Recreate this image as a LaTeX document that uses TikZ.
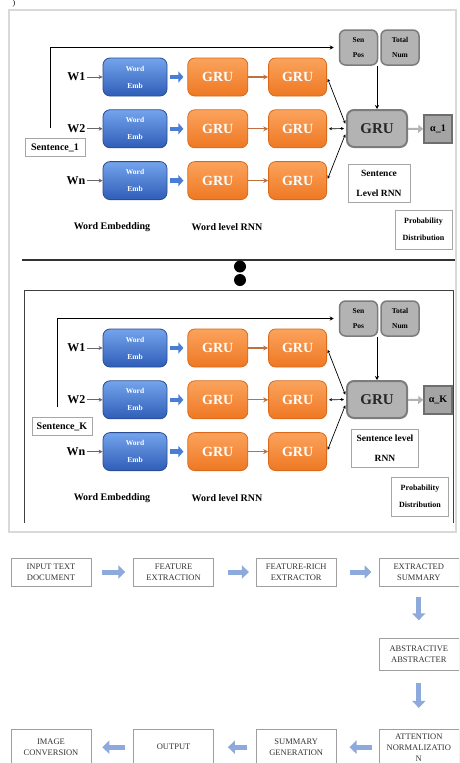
\documentclass[tikz,border=0pt]{standalone}
\usepackage{fontspec}
\setmainfont{Liberation Serif}
\usetikzlibrary{positioning,arrows.meta}

\definecolor{embtop}{HTML}{74A4EC}
\definecolor{embbot}{HTML}{2F5DB8}
\definecolor{embline}{HTML}{2A4C92}
\definecolor{embarrc}{HTML}{4A7ED6}
\definecolor{grutop}{HTML}{FBA35C}
\definecolor{grubot}{HTML}{EE7823}
\definecolor{gruline}{HTML}{D9691B}
\definecolor{gruarrc}{HTML}{C0703F}
\definecolor{sfill}{HTML}{B3B3B3}
\definecolor{sline}{HTML}{7C7C7C}
\definecolor{afill}{HTML}{A4A4A4}
\definecolor{aline}{HTML}{6E6E6E}
\definecolor{flowc}{HTML}{8EAADC}

\begin{document}
\begin{tikzpicture}[x=1pt, y=-1pt, node distance=13pt and 20pt,
  emb/.style={rectangle, rounded corners=7pt, draw=embline, line width=0.8pt, top color=embtop, bottom color=embbot,
    text=white, align=center, font=\bfseries\fontsize{7.5}{17}\selectfont, minimum width=64pt, minimum height=38pt, inner sep=0pt},
  gru/.style={rectangle, rounded corners=7pt, draw=gruline, line width=0.8pt, top color=grutop, bottom color=grubot,
    text=white, font=\bfseries\fontsize{14}{16}\selectfont, minimum width=60pt, minimum height=38pt, inner sep=0pt},
  sgru/.style={rectangle, rounded corners=7pt, draw=sline, line width=2pt, fill=sfill, text=black!85,
    font=\bfseries\fontsize{15}{17}\selectfont, minimum width=60pt, minimum height=37pt},
  posbox/.style={rectangle, rounded corners=6pt, draw=sline, line width=1.5pt, fill=sfill, align=center,
    font=\bfseries\fontsize{7.5}{15}\selectfont, minimum width=38pt, minimum height=35pt, inner sep=0pt},
  abox/.style={rectangle, draw=aline, line width=1.5pt, fill=afill, font=\bfseries\fontsize{10}{12}\selectfont,
    minimum size=28pt, inner sep=0pt},
  lbox/.style={rectangle, draw=gray!70, line width=0.6pt, fill=white, align=center, inner sep=5pt},
  wlab/.style={font=\bfseries\fontsize{12}{14}\selectfont, inner sep=1pt},
  plab/.style={font=\bfseries\fontsize{10}{12}\selectfont},
  warr/.style={-{Stealth[length=4pt,width=4pt]}, draw=gray!80!black, line width=0.8pt},
  embarr/.style={-{Triangle[length=5pt,width=11pt]}, draw=embarrc, line width=4.5pt, shorten <=3pt, shorten >=4pt},
  gruarr/.style={-{Stealth[length=5pt,width=5pt]}, draw=gruarrc, line width=1.2pt},
  duo/.style={{Stealth[length=3pt,width=3pt]}-{Stealth[length=3pt,width=3pt]}, line width=0.7pt, shorten <=2pt, shorten >=2pt},
  sarr/.style={-{Triangle[length=5pt,width=8pt]}, draw=gray!60, line width=2pt},
  flowbox/.style={rectangle, draw=gray!75, line width=0.6pt, align=center, text=black!80,
    font=\fontsize{8.5}{11}\selectfont, minimum width=80pt, minimum height=28pt, inner sep=2pt},
  flowarr/.style={-{Triangle[length=7pt,width=13pt]}, draw=flowc, line width=5pt}]

\useasboundingbox (0,0) rectangle (459,763);
\clip (0,0) rectangle (459,763);
\fill[white] (0,0) rectangle (459,763);
\node[font=\fontsize{8}{10}\selectfont, inner sep=0pt] (paren) at (14,4) {)};
\draw[gray!30, line width=1.2pt] (9,10) rectangle (456,532);

% the two sentence panels
\foreach \p/\dy/\sx/\sy/\rnn/\rx/\ry/\px/\py in {%
  1/0/55/147.5/{Sentence\\Level RNN}/379/183/423.5/229.5,%
  K/271/62/155.5/{Sentence level\\RNN}/385/177.5/420/225.5}{
\begin{scope}[shift={(0,\dy)}]
  \node[emb] (emb1\p) at (135,77) {Word\\Emb};
  \node[emb] (emb2\p) [below=of emb1\p] {Word\\Emb};
  \node[emb] (emb3\p) [below=of emb2\p] {Word\\Emb};

  \node[gru] (gra1\p) [right=of emb1\p] {GRU};
  \node[gru] (gra2\p) [right=of emb2\p] {GRU};
  \node[gru] (gra3\p) [right=of emb3\p] {GRU};
  \node[gru, minimum width=58pt] (grb1\p) [right=of gra1\p] {GRU};
  \node[gru, minimum width=58pt] (grb2\p) [right=of gra2\p] {GRU};
  \node[gru, minimum width=58pt] (grb3\p) [right=of gra3\p] {GRU};

  \node[wlab] (w1\p) [left=16pt of emb1\p] {W1};
  \node[wlab] (w2\p) [left=16pt of emb2\p] {W2};
  \node[wlab] (wn\p) [left=16pt of emb3\p] {Wn};

  \node[sgru] (sgru\p) at (377,128.5) {GRU};
  \node[posbox] (spos\p) at (358.5,47.5) {Sen\\Pos};
  \node[posbox] (snum\p) [right=2pt of spos\p] {Total\\Num};
  \node[abox] (alpha\p) at (438,129) {α\_\p};

  \node[lbox, font=\bfseries\fontsize{10}{12}\selectfont, minimum width=60pt, minimum height=18pt, inner sep=2pt] (sent\p) at (\sx,\sy) {Sentence\_\p};
  \node[lbox, font=\bfseries\fontsize{9.5}{20}\selectfont, minimum width=62pt, minimum height=38pt] (rnn\p) at (\rx,\ry) {\rnn};
  \node[lbox, font=\bfseries\fontsize{8}{17}\selectfont, minimum width=57pt, minimum height=39pt, inner sep=3pt] (prob\p) at (\px,\py) {Probability\\Distribution};
  \node[plab] (lemb\p) at (112,227) {Word Embedding};
  \node[plab] (lrnn\p) at (227,227) {Word level RNN};

  \draw[warr] (w1\p) -- (emb1\p);
  \draw[warr] (w2\p) -- (emb2\p);
  \draw[warr] (wn\p) -- (emb3\p);

  \draw[embarr] (emb1\p) -- (gra1\p);
  \draw[embarr] (emb2\p) -- (gra2\p);
  \draw[embarr] (emb3\p) -- (gra3\p);

  \draw[gruarr] (gra1\p) -- (grb1\p);
  \draw[gruarr] (gra2\p) -- (grb2\p);
  \draw[gruarr] (gra3\p) -- (grb3\p);

  \draw[duo] (grb1\p.east) -- ([yshift=3pt]sgru\p.west);
  \draw[duo] (grb2\p.east) -- (sgru\p.west);
  \draw[duo] (grb3\p.east) -- ([yshift=-4pt]sgru\p.west);

  \draw[-{Stealth[length=4pt,width=4pt]}, line width=0.8pt] (sgru\p.north |- spos\p.south) -- (sgru\p.north);
  \draw[-{Stealth[length=4pt,width=4pt]}, line width=0.8pt, shorten >=5pt] ([xshift=-5pt,yshift=10pt]sent\p.north) |- (spos\p.west);
  \draw[sarr] (sgru\p) -- (alpha\p);
\end{scope}
}

% separator and second frame
\draw[black!80, line width=1.5pt] (22,260) -- (455,260);
\fill (240,266.5) circle (6pt);
\fill (240,280) circle (6pt);
\draw[black!75, line width=1pt] (24,523) -- (24,290) -- (453,290) -- (453,523);

% summarisation flow
\node[flowbox] (input) at (51,572) {INPUT TEXT\\DOCUMENT};
\node[flowbox] (featext) [right=42pt of input] {FEATURE\\EXTRACTION};
\node[flowbox] (featrich) [right=42pt of featext] {FEATURE-RICH\\EXTRACTOR};
\node[flowbox] (extsum) [right=42pt of featrich] {EXTRACTED\\SUMMARY};
\node[flowbox, minimum height=32pt] (abstr) [below=52pt of extsum] {ABSTRACTIVE\\ABSTRACTER};
\node[flowbox, minimum height=36pt] (attn) [below=58pt of abstr] {ATTENTION\\NORMALIZATIO\\N};
\node[flowbox, minimum height=36pt] (sumgen) [left=42pt of attn] {SUMMARY\\GENERATION};
\node[flowbox, minimum height=36pt] (output) [left=42pt of sumgen] {OUTPUT};
\node[flowbox, minimum height=36pt] (imgconv) [left=42pt of output] {IMAGE\\CONVERSION};

\draw[flowarr, shorten <=11pt, shorten >=8pt] (input) -- (featext);
\draw[flowarr, shorten <=14pt, shorten >=7pt] (featext) -- (featrich);
\draw[flowarr, shorten <=13pt, shorten >=7pt] (featrich) -- (extsum);
\draw[flowarr, shorten <=11pt, shorten >=18pt] (extsum) -- (abstr);
\draw[flowarr, shorten <=12pt, shorten >=21pt] (abstr) -- (attn);
\draw[flowarr, shorten <=7pt, shorten >=13pt] (attn) -- (sumgen);
\draw[flowarr, shorten <=9pt, shorten >=14pt] (sumgen) -- (output);
\draw[flowarr, shorten <=8pt, shorten >=11pt] (output) -- (imgconv);
\end{tikzpicture}
\end{document}
